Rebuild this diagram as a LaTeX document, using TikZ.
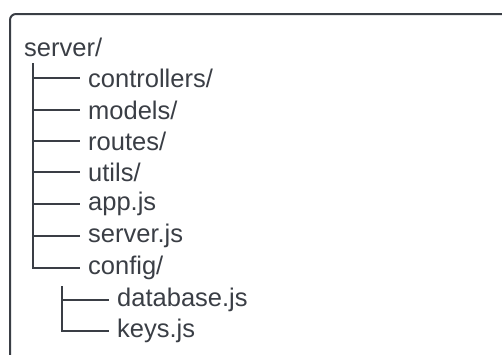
\documentclass[tikz,border=0pt]{standalone}
\usepackage{fontspec}
\setmainfont{Liberation Sans}
\definecolor{ink}{HTML}{3A3E45}
\begin{document}
\begin{tikzpicture}[x=1pt,y=-1pt,
  lbl/.style={anchor=west,inner sep=0pt,text=ink,font=\fontsize{25.5}{28}\selectfont},
  tree/.style={draw=ink,line width=1.6pt},
  frame/.style={draw=ink,line width=2pt,rounded corners=6pt}]
\useasboundingbox (0,0) rectangle (502,354);
\begin{scope}
\clip (0,0) rectangle (502,354);
\draw[frame] (10,370) -- (10,14) -- (520,14);
\end{scope}
\node[lbl] (root) at (24,47) {server/};
\node[lbl] (c1) at (88,78) {controllers/};
\node[lbl] (c2) at (88,110) {models/};
\node[lbl] (c3) at (88,141) {routes/};
\node[lbl] (c4) at (88,172) {utils/};
\node[lbl] (c5) at (88,204) {app.js};
\node[lbl] (c6) at (88,236) {server.js};
\node[lbl] (c7) at (88,268) {config/};
\node[lbl] (d1) at (117,300) {database.js};
\node[lbl] (d2) at (117,331) {keys.js};
\coordinate (t0) at (33,63);
\coordinate (u0) at (62,286);
\draw[tree] (t0) |- ([xshift=-8pt]c7.west);
\foreach \n in {c1,c2,c3,c4,c5,c6}
  \draw[tree] (t0 |- \n.west) -- ([xshift=-8pt]\n.west);
\draw[tree] (u0) |- ([xshift=-8pt]d2.west);
\draw[tree] (u0 |- d1.west) -- ([xshift=-8pt]d1.west);
\end{tikzpicture}
\end{document}
